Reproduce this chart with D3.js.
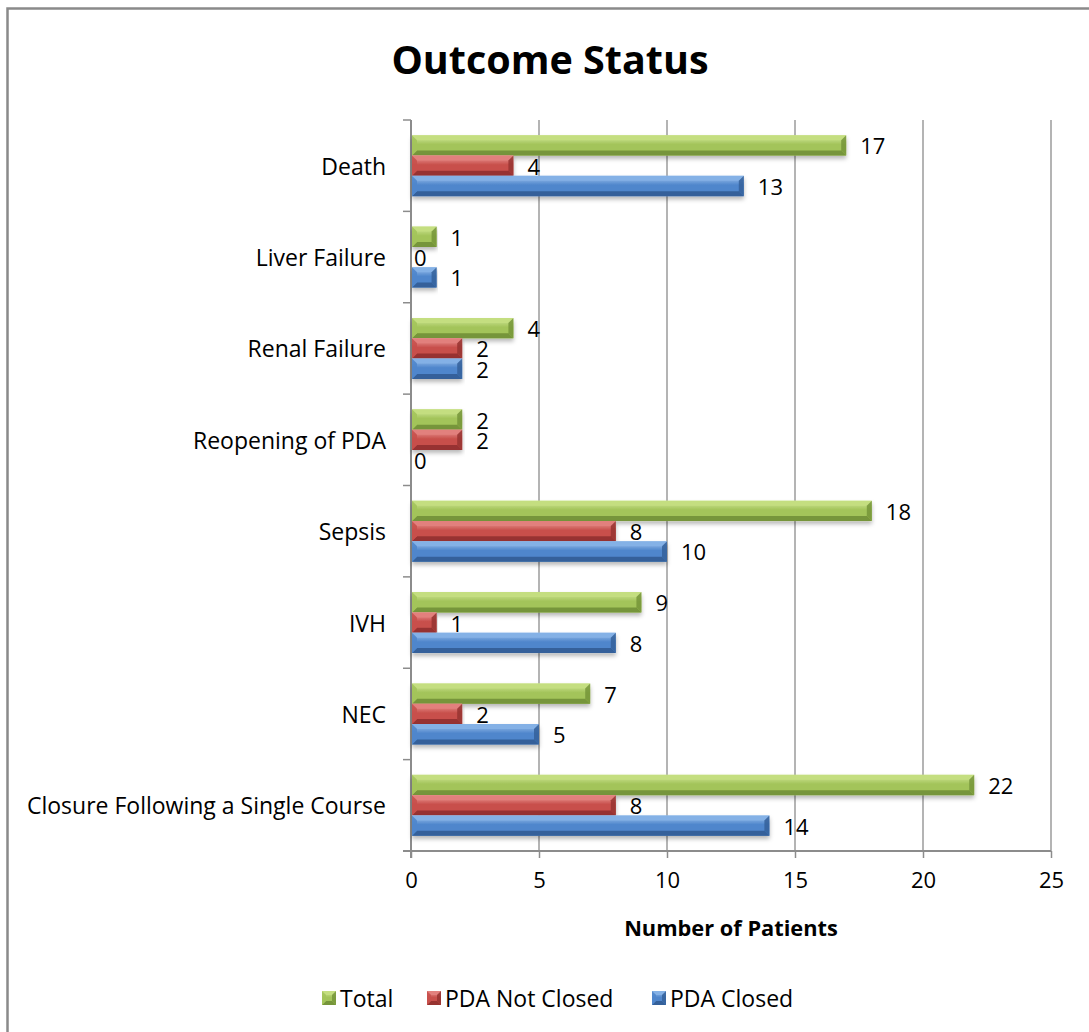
<!DOCTYPE html>
<html>
<head>
<meta charset="utf-8">
<script src="https://cdn.jsdelivr.net/npm/d3@7"></script>
<style>
  html, body { margin: 0; padding: 0; background: #fff; }
  svg { display: block; }
  text { font-family: "Open Sans", Lato, sans-serif; fill: #000; }
</style>
</head>
<body>
<svg id="chart" width="1089" height="1032"></svg>
<script>
// ---- data ----
const categories = ["Death", "Liver Failure", "Renal Failure", "Reopening of PDA",
  "Sepsis", "IVH", "NEC", "Closure Following a Single Course"];
const seriesNames = ["Total", "PDA Not Closed", "PDA Closed"];
const totalValues = [17, 1, 4, 2, 18, 9, 7, 22];
const notClosedValues = [4, 0, 2, 2, 8, 1, 2, 8];
const closedValues = [13, 1, 2, 0, 10, 8, 5, 14];
const xTicks = [0, 5, 10, 15, 20, 25];
const titleText = "Outcome Status";
const xTitleText = "Number of Patients";

const seriesValues = [totalValues, notClosedValues, closedValues];
const palette = [
  { light: "#d4e99c", mid: "#a3c45a", dark: "#76953a", top: "#c4de80" },
  { light: "#ee9f9c", mid: "#c8504c", dark: "#973330", top: "#e2807d" },
  { light: "#a2c5ee", mid: "#4f86cc", dark: "#34609a", top: "#84b1e6" }
];
const FONT = "'Open Sans', Lato, sans-serif";

const svg = d3.select("#chart");
const W = 1089, H = 1032;

// outer frame
svg.append("rect").attr("x", 7.5).attr("y", 8.5).attr("width", W + 10).attr("height", H + 10)
  .attr("fill", "#fff").attr("stroke", "#8a8a8a").attr("stroke-width", 2.5);

const plot = { left: 411, right: 1051, top: 120, bottom: 851 };

const x = d3.scaleLinear().domain([0, 25]).range([plot.left, plot.right]);
const y = d3.scaleBand().domain(categories).range([plot.top, plot.bottom]).paddingInner(0).paddingOuter(0);
// 3 bars per band with a gap of 150% of one bar
const barH = y.bandwidth() / 4.5;
const innerY = d3.scaleOrdinal().domain(seriesNames).range([0.75 * barH, 1.75 * barH, 2.75 * barH]);

const defs = svg.append("defs");
palette.forEach((p, i) => {
  const g = defs.append("linearGradient").attr("id", "g" + i).attr("x1", 0).attr("y1", 0).attr("x2", 0).attr("y2", 1);
  g.append("stop").attr("offset", "0%").attr("stop-color", p.light);
  g.append("stop").attr("offset", "45%").attr("stop-color", p.mid);
  g.append("stop").attr("offset", "100%").attr("stop-color", p.mid);
});
const f = defs.append("filter").attr("id", "shadow").attr("x", "-5%").attr("y", "-20%").attr("width", "110%").attr("height", "160%");
f.append("feDropShadow").attr("dx", 0).attr("dy", 3).attr("stdDeviation", 2.2).attr("flood-color", "#000").attr("flood-opacity", 0.28);

// gridlines
svg.append("g").selectAll("line").data(xTicks.filter(d => d > 0)).join("line")
  .attr("x1", d => x(d)).attr("x2", d => x(d)).attr("y1", plot.top).attr("y2", plot.bottom)
  .attr("stroke", "#8c8c8c").attr("stroke-width", 1.3);

// x axis
const xAxis = d3.axisBottom(x).tickValues(xTicks).tickSize(7).tickPadding(14);
const gx = svg.append("g").attr("transform", `translate(0,${plot.bottom})`).call(xAxis);
gx.select(".domain").attr("stroke", "#8c8c8c").attr("stroke-width", 2).attr("d", `M${plot.left - 8},0H${plot.right}`);
gx.selectAll(".tick line").attr("stroke", "#8c8c8c").attr("stroke-width", 1.5);
gx.selectAll(".tick text").attr("font-size", 22).attr("font-family", FONT).attr("fill", "#000");

// y axis line + ticks at category boundaries
svg.append("line").attr("x1", plot.left).attr("x2", plot.left).attr("y1", plot.top).attr("y2", plot.bottom + 7)
  .attr("stroke", "#8c8c8c").attr("stroke-width", 2);
const bounds = categories.map(c => y(c)).concat([plot.bottom]);
svg.append("g").selectAll("line").data(bounds).join("line")
  .attr("x1", plot.left - 8).attr("x2", plot.left).attr("y1", d => d).attr("y2", d => d)
  .attr("stroke", "#8c8c8c").attr("stroke-width", 1.5);

// category labels
svg.append("g").selectAll("text").data(categories).join("text")
  .attr("x", plot.left - 25).attr("y", d => y(d) + y.bandwidth() / 2)
  .attr("text-anchor", "end").attr("dominant-baseline", "central")
  .attr("font-size", 23).text(d => d);

function bevelBar(g, bx, by, w, h, i, b) {
  const p = palette[i];
  b = Math.min(b, w / 2, h / 2);
  g.append("rect").attr("x", bx).attr("y", by).attr("width", w).attr("height", h).attr("fill", `url(#g${i})`);
  g.append("polygon").attr("points", [[bx, by], [bx + w, by], [bx + w - b, by + b], [bx + b, by + b]].join(" ")).attr("fill", p.top);
  g.append("polygon").attr("points", [[bx, by + h], [bx + w, by + h], [bx + w - b, by + h - b], [bx + b, by + h - b]].join(" ")).attr("fill", p.dark);
  g.append("polygon").attr("points", [[bx, by], [bx + b, by + b], [bx + b, by + h - b], [bx, by + h]].join(" ")).attr("fill", p.mid).attr("opacity", 0.9);
  g.append("polygon").attr("points", [[bx + w, by], [bx + w - b, by + b], [bx + w - b, by + h - b], [bx + w, by + h]].join(" ")).attr("fill", p.dark).attr("opacity", 0.85);
}

// bars
seriesNames.forEach((s, i) => {
  const vals = seriesValues[i];
  const gs = svg.append("g");
  categories.forEach((c, k) => {
    const v = vals[k];
    const by = y(c) + innerY(s);
    if (v > 0) {
      const gb = gs.append("g").attr("filter", "url(#shadow)");
      bevelBar(gb, x(0) + 1, by, x(v) - x(0) - 1, barH, i, 5);
    }
    svg.append("text").attr("x", v > 0 ? x(v) + 14 : x(v) + 3).attr("y", by + barH / 2)
      .attr("dominant-baseline", "central").attr("font-size", 22).text(v);
  });
});

// titles
svg.append("text").attr("x", 550).attr("y", 59).attr("text-anchor", "middle").attr("dominant-baseline", "central")
  .attr("font-size", 39.5).attr("font-weight", "bold").text(titleText);
svg.append("text").attr("x", (plot.left + plot.right) / 2).attr("y", 927).attr("text-anchor", "middle").attr("dominant-baseline", "central")
  .attr("font-size", 21.8).attr("font-weight", "bold").text(xTitleText);

// legend
const legendX = [322, 427, 652];
const lg = svg.append("g");
seriesNames.forEach((s, i) => {
  const gi = lg.append("g");
  bevelBar(gi, legendX[i], 991, 14, 14, i, 4);
  lg.append("text").attr("x", legendX[i] + 18).attr("y", 998).attr("dominant-baseline", "central")
    .attr("font-size", 23).text(s);
});
</script>
</body>
</html>
